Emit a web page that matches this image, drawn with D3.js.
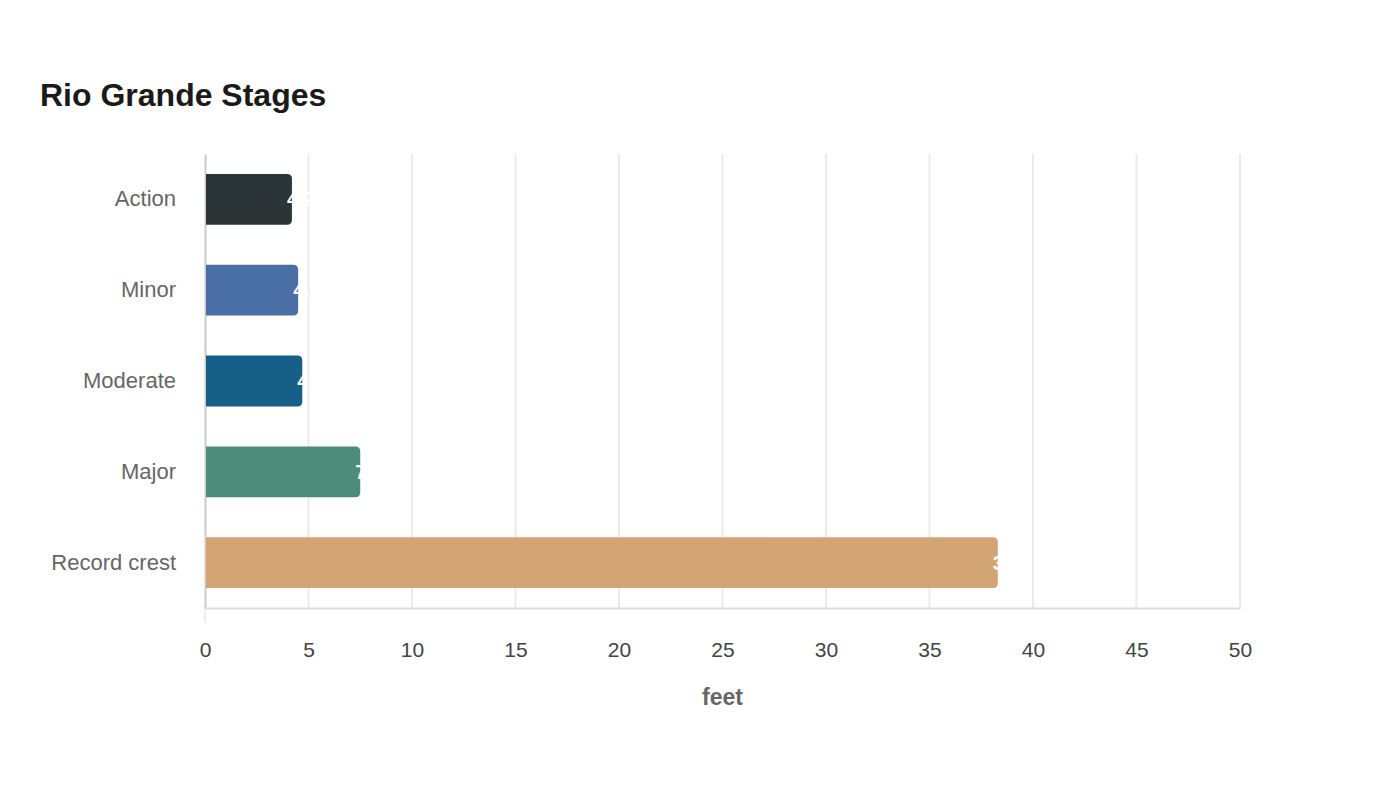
<!DOCTYPE html>
<html>
<head>
  <script src="https://d3js.org/d3.v7.min.js"></script>
  <style>
    body { margin: 0; background: #fff; }
    svg { font-family: "Liberation Sans", Arial, sans-serif; }
  </style>
</head>
<body>
  <svg width="1400" height="800"></svg>
  <script>
    // stages and levels, in feet
    var stages = ["Action", "Minor", "Moderate", "Major", "Record crest"];
    var feet = [4.2, 4.5, 4.7, 7.5, 38.3];
    var colors = ["#2b3436", "#4a6fa5", "#166088", "#4e8c7a", "#d4a574"];
    var ticks = [0, 5, 10, 15, 20, 25, 30, 35, 40, 45, 50];

    var data = stages.map(function(s, i) { return {stage: s, value: feet[i], color: colors[i]}; });

    var svg = d3.select("svg");
    var mLeft = 205, mRight = 1240, mTop = 154, mBottom = 608;

    var x = d3.scaleLinear().domain([0, 50]).range([mLeft, mRight]);
    var y = d3.scaleBand().domain(stages).range([mTop, mBottom]).paddingInner(0.44).paddingOuter(0.22);

    svg.append("text")
      .attr("x", 40).attr("y", 106)
      .attr("font-size", 32).attr("font-weight", "bold").attr("fill", "#1a1a1a")
      .text("Rio Grande Stages");

    // grid
    svg.append("g").selectAll("line")
      .data(ticks.slice(1))
      .enter().append("line")
      .attr("x1", function(d) { return x(d); }).attr("x2", function(d) { return x(d); })
      .attr("y1", mTop).attr("y2", mBottom)
      .attr("stroke", "#ebebeb").attr("stroke-width", 2);

    // x axis
    var xAxis = svg.append("g").attr("transform", "translate(0," + mBottom + ")")
      .call(d3.axisBottom(x).tickValues(ticks).tickSize(0).tickPadding(34));
    xAxis.select(".domain").attr("stroke", "#dddddd").attr("stroke-width", 2);
    xAxis.selectAll("text").attr("font-size", 21).attr("fill", "#444").attr("font-family", null);

    svg.append("line")
      .attr("x1", mLeft).attr("x2", mLeft).attr("y1", mBottom).attr("y2", mBottom + 14)
      .attr("stroke", "#eeeeee").attr("stroke-width", 2);

    // y axis
    var yAxis = svg.append("g").attr("transform", "translate(" + mLeft + ",0)")
      .call(d3.axisLeft(y).tickSize(0).tickPadding(29).tickSizeOuter(0));
    yAxis.select(".domain").attr("stroke", "#cccccc").attr("stroke-width", 2);
    yAxis.selectAll("text").attr("font-size", 22).attr("fill", "#666").attr("font-family", null);

    svg.append("text")
      .attr("x", (mLeft + mRight) / 2).attr("y", 705)
      .attr("text-anchor", "middle")
      .attr("font-size", 23).attr("font-weight", "bold").attr("fill", "#666")
      .text("feet");

    // bars with rounded right end
    var r = 5;
    svg.append("g").selectAll("path")
      .data(data)
      .enter().append("path")
      .attr("fill", function(d) { return d.color; })
      .attr("d", function(d) {
        var x0 = x(0) + 1, x1 = x(d.value), y0 = y(d.stage), h = y.bandwidth();
        return "M" + x0 + "," + y0 +
          "H" + (x1 - r) + "Q" + x1 + "," + y0 + " " + x1 + "," + (y0 + r) +
          "V" + (y0 + h - r) + "Q" + x1 + "," + (y0 + h) + " " + (x1 - r) + "," + (y0 + h) +
          "H" + x0 + "Z";
      });

    svg.append("g").selectAll("text")
      .data(data)
      .enter().append("text")
      .attr("x", function(d) { return x(d.value) - 5; })
      .attr("y", function(d) { return y(d.stage) + y.bandwidth() / 2 + 7; })
      .attr("font-size", 20).attr("font-weight", "bold").attr("fill", "#fff")
      .text(function(d) { return d.value; });
  </script>
</body>
</html>
